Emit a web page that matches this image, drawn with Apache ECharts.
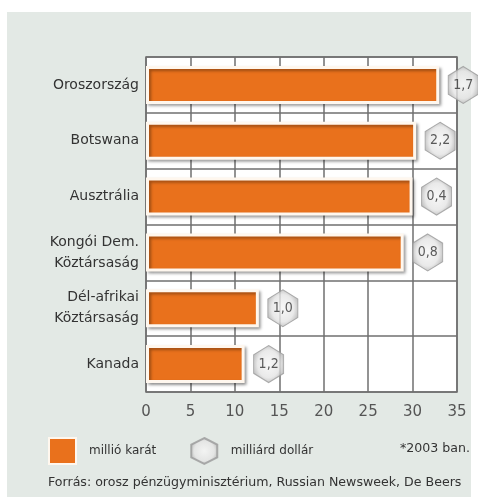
<!DOCTYPE html>
<html>
<head>
<meta charset="utf-8">
<script src="https://cdn.jsdelivr.net/npm/echarts@6/dist/echarts.min.js"></script>
<style>
  html, body { margin: 0; padding: 0; background: #fff; }
  #wrap { position: relative; width: 478px; height: 503px; }
  #panel { position: absolute; left: 7px; top: 12px; width: 464px; height: 485px; background: #e3e9e5; }
  #chart { position: absolute; left: 0; top: 0; width: 478px; height: 503px; }
</style>
</head>
<body>
<div id="wrap">
  <div id="panel"></div>
  <div id="chart"></div>
</div>
<script>
// data
var countries = ['Oroszország', 'Botswana', 'Ausztrália', 'Kongói Dem.\nKöztársaság', 'Dél-afrikai\nKöztársaság', 'Kanada'];
var carats = [33.0, 30.4, 30.0, 29.0, 12.7, 11.1];      // millió karát
var dollars = ['1,7', '2,2', '0,4', '0,8', '1,0', '1,2']; // milliárd dollár
var xTicks = [0, 5, 10, 15, 20, 25, 30, 35];

var fontFam = "'DejaVu Sans', sans-serif";
var condFam = "'DejaVu Sans Condensed', 'DejaVu Sans', sans-serif";
var hexPath = 'path://M50,0 L100,25 L100,75 L50,100 L0,75 L0,25 Z';
var hexFill = {
  type: 'radial', x: 0.5, y: 0.5, r: 0.55,
  colorStops: [{offset: 0, color: '#f6f6f6'}, {offset: 0.65, color: '#e4e4e4'}, {offset: 1, color: '#a8a8a8'}]
};

var hexData = carats.map(function (v, i) {
  return {value: [v, i], label: {formatter: dollars[i]}};
});

var myChart = echarts.init(document.getElementById('chart'));
var option = {
  animation: false,
  textStyle: {fontFamily: fontFam},
  grid: {
    left: 146, right: 21, top: 57, bottom: 111,
    show: true, backgroundColor: '#ffffff',
    borderColor: '#6f6f6f', borderWidth: 1.5
  },
  legend: {
    left: 48, top: 437, padding: 0,
    itemWidth: 27, itemHeight: 26, itemGap: 34,
    textStyle: {color: '#333', fontSize: 12, fontFamily: fontFam, padding: [0, 0, 0, 8]},
    data: [
      {name: 'millió karát', icon: 'rect'},
      {name: 'milliárd dollár', icon: hexPath}
    ]
  },
  xAxis: {
    type: 'value', min: 0, max: 35, interval: 5,
    axisLine: {show: false}, axisTick: {show: false},
    splitLine: {show: true, lineStyle: {color: '#6f6f6f', width: 1.5}},
    axisLabel: {
      color: '#555', fontSize: 15, margin: 13, fontFamily: fontFam,
      formatter: function (v) { return xTicks.indexOf(v) >= 0 ? String(v) : ''; }
    }
  },
  yAxis: {
    type: 'category', inverse: true, data: countries,
    axisLine: {show: false}, axisTick: {show: false},
    splitLine: {show: true, lineStyle: {color: '#6f6f6f', width: 1.5}},
    axisLabel: {color: '#333', fontSize: 14, lineHeight: 21, margin: 7, fontFamily: fontFam}
  },
  series: [
    {
      name: 'millió karát', type: 'bar', data: carats, barWidth: 38, z: 3,
      itemStyle: {
        color: '#e9711c', borderColor: '#fff7ee', borderWidth: 3,
        shadowColor: 'rgba(0,0,0,0.35)', shadowBlur: 3, shadowOffsetX: 2, shadowOffsetY: 2
      }
    },
    {
      name: 'milliárd dollár', type: 'scatter', data: hexData, z: 4, clip: false,
      symbol: hexPath, symbolSize: [30, 37], symbolOffset: [24, 0],
      itemStyle: {color: hexFill, borderColor: '#9a9a9a', borderWidth: 1},
      label: {show: true, position: 'inside', color: '#333', fontSize: 14, fontFamily: condFam}
    }
  ],
  graphic: [
    {type: 'text', right: 8, top: 442, style: {text: '*2003 ban.', fill: '#333', font: "12.6px " + fontFam}},
    {type: 'text', left: 48, top: 476, style: {text: 'Forrás: orosz pénzügyminisztérium, Russian Newsweek, De Beers', fill: '#333', font: "12.6px " + fontFam}}
  ]
};
myChart.setOption(option);
</script>
</body>
</html>
